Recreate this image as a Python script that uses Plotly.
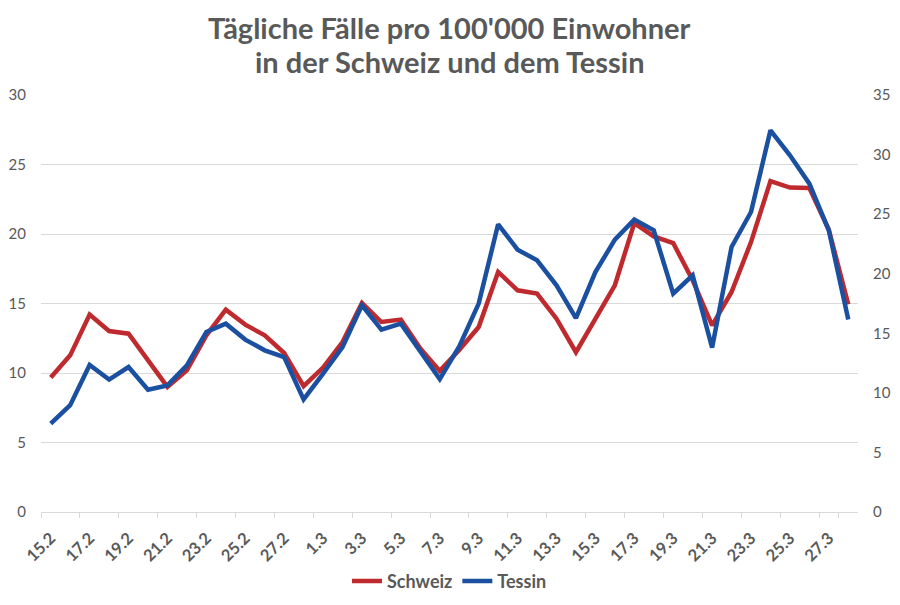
import plotly.graph_objects as go

dates = ["15.2", "16.2", "17.2", "18.2", "19.2", "20.2", "21.2", "22.2", "23.2", "24.2",
         "25.2", "26.2", "27.2", "28.2",
         "1.3", "2.3", "3.3", "4.3", "5.3", "6.3", "7.3", "8.3", "9.3", "10.3",
         "11.3", "12.3", "13.3", "14.3", "15.3", "16.3", "17.3", "18.3", "19.3", "20.3",
         "21.3", "22.3", "23.3", "24.3", "25.3", "26.3", "27.3", "28.3"]

schweiz = [9.67, 11.27, 14.2, 13.02, 12.83, 10.9, 9.0, 10.19, 12.71, 14.56,
           13.48, 12.71, 11.44, 9.05,
           10.39, 12.23, 15.04, 13.67, 13.84, 11.76, 10.15, 11.65, 13.31, 17.27,
           15.95, 15.71, 13.91, 11.5, 13.91, 16.31, 20.79, 19.83, 19.35, 16.67,
           13.43, 15.83, 19.42, 23.81, 23.34, 23.31, 20.3, 14.94]

tessin = [7.42, 8.96, 12.34, 11.11, 12.17, 10.27, 10.63, 12.31, 15.11, 15.81,
          14.47, 13.57, 13.01, 9.45,
          11.62, 13.85, 17.35, 15.31, 15.81, 13.43, 11.15, 13.9, 17.49, 24.15,
          22.02, 21.13, 19.03, 16.28, 20.14, 22.86, 24.54, 23.64, 18.33, 19.87,
          13.8, 22.24, 25.18, 32.04, 29.94, 27.56, 23.64, 16.15]

tick_labels = dates[::2]

left_ticks = [0, 5, 10, 15, 20, 25, 30]
right_ticks = [0, 5, 10, 15, 20, 25, 30, 35]

title_lines = ["Tägliche Fälle pro 100'000 Einwohner", "in der Schweiz und dem Tessin"]

RED = "#BE2A2E"
BLUE = "#1B4FA0"
GRAY = "#595959"
GRID = "#D9D9D9"
FONT = "Lato, 'Open Sans', sans-serif"

fig = go.Figure()
fig.add_trace(go.Scatter(x=dates, y=schweiz, name="Schweiz", mode="lines",
                         line=dict(color=RED, width=4.5), yaxis="y"))
fig.add_trace(go.Scatter(x=dates, y=tessin, name="Tessin", mode="lines",
                         line=dict(color=BLUE, width=4.5), yaxis="y2"))

for txt, ypos in zip(title_lines, [1.1607, 1.0815]):
    fig.add_annotation(text="<b>%s</b>" % txt, xref="paper", yref="paper",
                       x=0.5, y=ypos, xanchor="center", yanchor="middle",
                       showarrow=False, font=dict(family=FONT, size=29, color=GRAY))

fig.update_layout(
    width=892, height=597,
    margin=dict(l=33, r=42, t=87, b=93, autoexpand=False),
    paper_bgcolor="white", plot_bgcolor="white",
    font=dict(family=FONT, color=GRAY, size=15),
    showlegend=True,
    legend=dict(orientation="h", x=0.5, xanchor="center", y=-0.166, yanchor="middle",
                font=dict(family=FONT, size=18, color=GRAY, weight="bold"),
                itemwidth=30, tracegroupgap=0),
    xaxis=dict(type="category", tickmode="array", tickvals=tick_labels, ticktext=tick_labels,
               tickangle=-45, tickson="boundaries", ticks="outside", ticklen=5,
               tickcolor=GRID, showline=True, linecolor=GRID, linewidth=1,
               showgrid=False, tickfont=dict(size=16.5, color=GRAY, weight="bold"),
               ticklabelstandoff=9, automargin=False,
               range=[-0.5, len(dates) - 0.5]),
    yaxis=dict(range=[0, 30], tickvals=left_ticks, showgrid=True, gridcolor=GRID,
               gridwidth=1, zeroline=False, showline=False, ticks="",
               ticklabelstandoff=14, automargin=False,
               tickfont=dict(size=15, color=GRAY)),
    yaxis2=dict(range=[0, 35], tickvals=right_ticks, overlaying="y", side="right",
                showgrid=False, zeroline=False, showline=False, ticks="",
                ticklabelstandoff=14, automargin=False,
                tickfont=dict(size=15, color=GRAY)),
)

fig.write_html("out.html")
